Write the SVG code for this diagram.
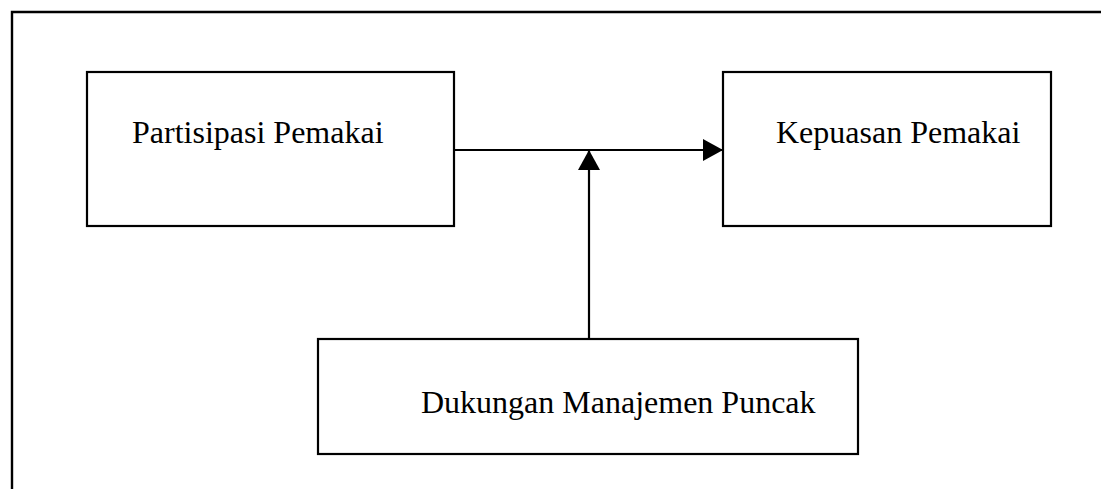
<svg xmlns="http://www.w3.org/2000/svg" width="1101" height="489" viewBox="0 0 1101 489">
<style>
.box{fill:#fff;stroke:#000;stroke-width:2.2}
.lbl{font-family:"Liberation Serif","Times New Roman",serif;font-size:32px;fill:#000}
.con{stroke:#000;stroke-width:2.2;fill:none}
.frame{stroke:#000;stroke-width:2.4;fill:none}
</style>
<defs>
<marker id="arr" markerUnits="userSpaceOnUse" markerWidth="21" markerHeight="22" refX="20" refY="11" orient="auto">
<path d="M0,0 L20,11 L0,22 Z" fill="#000"/>
</marker>
</defs>
<rect width="1101" height="489" fill="#fff"/>
<path class="frame" d="M12,489 L12,12 L1101,12"/>
<g id="node-partisipasi">
<rect class="box" x="87" y="72" width="367" height="154"/>
<text class="lbl" x="132" y="143">Partisipasi Pemakai</text>
</g>
<g id="node-kepuasan">
<rect class="box" x="723" y="72" width="328" height="154"/>
<text class="lbl" x="776" y="143">Kepuasan Pemakai</text>
</g>
<g id="node-dukungan">
<rect class="box" x="318" y="339" width="540" height="115"/>
<text class="lbl" x="421" y="413">Dukungan Manajemen Puncak</text>
</g>
<g id="connectors">
<line class="con" x1="454" y1="150" x2="723" y2="150" marker-end="url(#arr)"/>
<line class="con" x1="589" y1="339" x2="589" y2="150" marker-end="url(#arr)"/>
</g>
</svg>
